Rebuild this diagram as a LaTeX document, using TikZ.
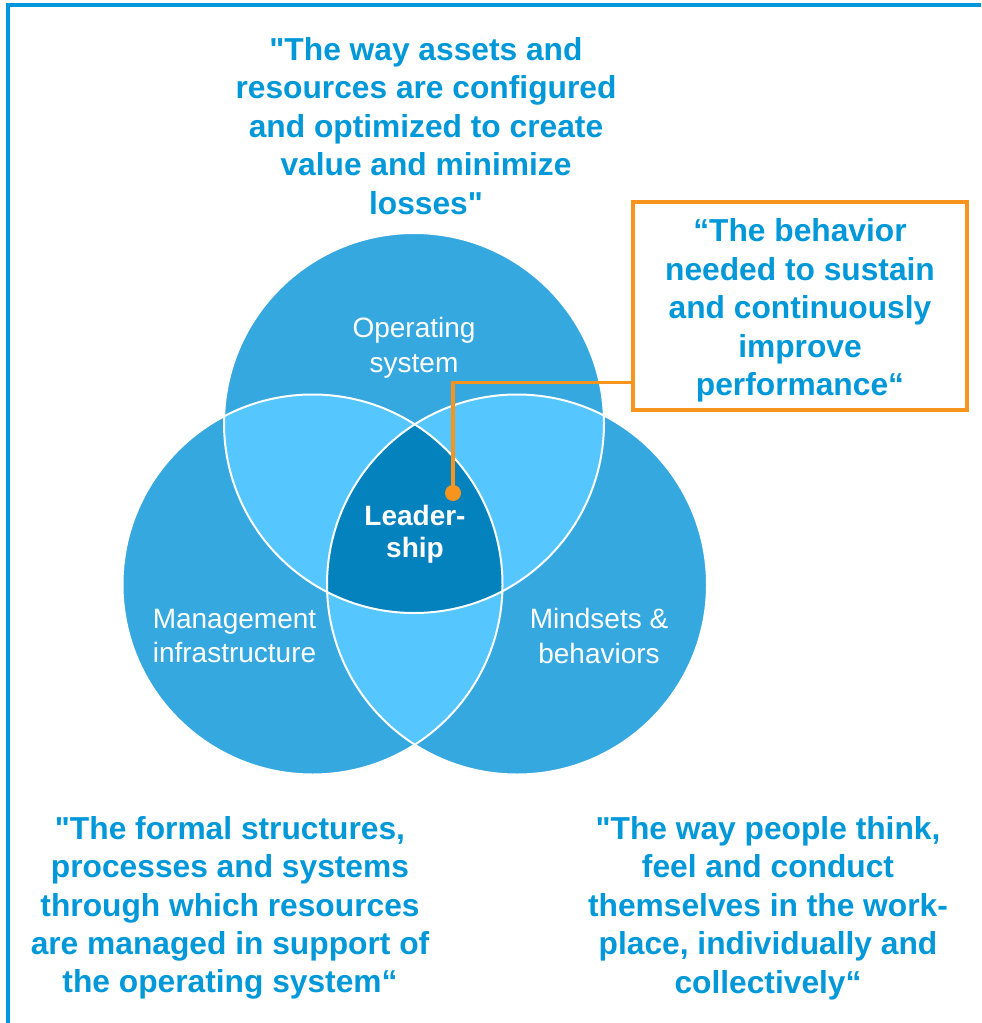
\documentclass[tikz,border=0pt]{standalone}
\usepackage{fontspec}
\setmainfont{Liberation Sans}
\setsansfont{Liberation Sans}
\usetikzlibrary{calc}
\definecolor{cframe}{HTML}{0096DC}
\definecolor{cquote}{HTML}{0098D9}
\definecolor{cmid}{HTML}{36A8E0}
\definecolor{clight}{HTML}{55C6FE}
\definecolor{cdark}{HTML}{0382BE}
\definecolor{corange}{HTML}{F7941D}
\tikzset{
  every picture/.style={font=\sffamily, line width=1.5pt},
  quote/.style={text=cquote, align=center, font=\sffamily\fontsize{23.8}{28.8}\selectfont\bfseries},
  circtext/.style={text=white, align=center, font=\sffamily\fontsize{21}{26}\selectfont},
  ring/.style={draw=white, line width=1.5pt},
  link/.style={draw=corange, line width=2.4pt},
}

\begin{document}
\begin{tikzpicture}[x=0.75pt, y=-0.75pt]
  \useasboundingbox (0,0) rectangle (981,1023);
  \draw[cframe, line width=3pt] (8,1023) -- (8,4.8) -- (981,4.8);
  \coordinate (ops) at (414,423);
  \coordinate (mgt) at (312.5,584.5);
  \coordinate (mnd) at (517,584.5);
  \foreach \c in {ops,mgt,mnd} \fill[cmid] (\c) circle (142.5pt);
  \begin{scope}
    \clip (mgt) circle (142.5pt);
    \fill[clight] (ops) circle (142.5pt);
    \fill[clight] (mnd) circle (142.5pt);
  \end{scope}
  \begin{scope}
    \clip (ops) circle (142.5pt);
    \fill[clight] (mnd) circle (142.5pt);
  \end{scope}
  \begin{scope}
    \clip (mgt) circle (142.5pt);
    \clip (ops) circle (142.5pt);
    \fill[cdark] (mnd) circle (142.5pt);
  \end{scope}
  \foreach \c in {ops,mgt,mnd} \draw[ring] (\c) circle (142.5pt);
  \node[circtext] (opsys) at (414,348) {Operating\\system};
  \node[circtext] (mgmt) at (234.5,636) {Management\\infrastructure};
  \node[circtext] (mind) at (599,636) {Mindsets \&\\behaviors};
  \node[circtext, font=\sffamily\fontsize{21}{24}\selectfont\bfseries] (lead) at (415,534) {Leader-\\ship};
  \node[quote] (topquote) at (426,126) {\textquotedbl The way assets and\\resources are configured\\and optimized to create\\value and minimize\\losses\textquotedbl};
  \node[quote, draw=corange, line width=2.5pt, minimum width=250.5pt, minimum height=156pt] (boxquote) at (800,306)
    {\raisebox{-3.75pt}[\height][\depth]{\begin{tabular}{@{}c@{}}“The behavior\\needed to sustain\\and continuously\\improve\\performance“\end{tabular}}};
  \node[quote] (leftquote) at (230,908) {\textquotedbl The formal structures,\\processes and systems\\through which resources\\are managed in support of\\the operating system“};
  \node[quote] (rightquote) at (768,908) {\textquotedbl The way people think,\\feel and conduct\\themselves in the work-\\place, individually and\\collectively“};
  \node[circle, fill=corange, inner sep=0pt, minimum size=12pt] (dot) at (453,493) {};
  \draw[link] (dot.center) |- ($(boxquote.south west)+(0,-29)$);
\end{tikzpicture}
\end{document}
